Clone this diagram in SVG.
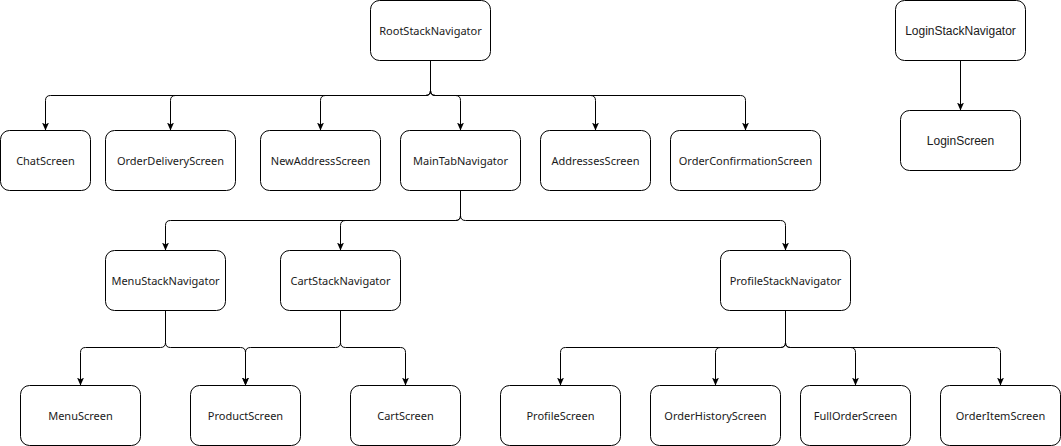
<svg xmlns="http://www.w3.org/2000/svg" width="1061" height="446" viewBox="0 0 1061 446">
<style>
.n rect{fill:#fff;stroke:#000;stroke-width:1}
.n text{font-family:"Noto Sans","Liberation Sans",sans-serif;font-size:11px;fill:#1a1a1a;text-anchor:middle;dominant-baseline:central}
.n.a text{font-family:"Liberation Sans",Arial,sans-serif;font-size:12px}
.e path{fill:none;stroke:#000;stroke-width:1;marker-end:url(#arr)}
</style>
<defs>
<marker id="arr" markerUnits="userSpaceOnUse" viewBox="0 0 8 8" markerWidth="8" markerHeight="8" refX="8" refY="4" orient="auto">
<path d="M0,0.5 L8,4 L0,7.5 L2,4 Z" fill="#000"/>
</marker>
</defs>
<rect width="1061" height="446" fill="#fff"/>
<g class="e" id="connectors">
<path d="M430.5,60.5 V90.5 Q430.5,95.5 425.5,95.5 H50.5 Q45.5,95.5 45.5,100.5 V130.5"/>
<path d="M430.5,60.5 V90.5 Q430.5,95.5 425.5,95.5 H175.5 Q170.5,95.5 170.5,100.5 V130.5"/>
<path d="M430.5,60.5 V90.5 Q430.5,95.5 425.5,95.5 H325.5 Q320.5,95.5 320.5,100.5 V130.5"/>
<path d="M430.5,60.5 V90.5 Q430.5,95.5 435.5,95.5 H455.5 Q460.5,95.5 460.5,100.5 V130.5"/>
<path d="M430.5,60.5 V90.5 Q430.5,95.5 435.5,95.5 H590.5 Q595.5,95.5 595.5,100.5 V130.5"/>
<path d="M430.5,60.5 V90.5 Q430.5,95.5 435.5,95.5 H740.5 Q745.5,95.5 745.5,100.5 V130.5"/>
<path d="M460.5,190.5 V215.5 Q460.5,220.5 455.5,220.5 H170.5 Q165.5,220.5 165.5,225.5 V250.5"/>
<path d="M460.5,190.5 V215.5 Q460.5,220.5 455.5,220.5 H345.5 Q340.5,220.5 340.5,225.5 V250.5"/>
<path d="M460.5,190.5 V215.5 Q460.5,220.5 465.5,220.5 H780.5 Q785.5,220.5 785.5,225.5 V250.5"/>
<path d="M165.5,310.5 V342.5 Q165.5,347.5 160.5,347.5 H85.5 Q80.5,347.5 80.5,352.5 V385.5"/>
<path d="M165.5,310.5 V342.5 Q165.5,347.5 170.5,347.5 H240.5 Q245.5,347.5 245.5,352.5 V385.5"/>
<path d="M340.5,310.5 V342.5 Q340.5,347.5 335.5,347.5 H250.5 Q245.5,347.5 245.5,352.5 V385.5"/>
<path d="M340.5,310.5 V342.5 Q340.5,347.5 345.5,347.5 H400.5 Q405.5,347.5 405.5,352.5 V385.5"/>
<path d="M785.5,310.5 V342.5 Q785.5,347.5 780.5,347.5 H565.5 Q560.5,347.5 560.5,352.5 V385.5"/>
<path d="M785.5,310.5 V342.5 Q785.5,347.5 780.5,347.5 H720.5 Q715.5,347.5 715.5,352.5 V385.5"/>
<path d="M785.5,310.5 V342.5 Q785.5,347.5 790.5,347.5 H850.5 Q855.5,347.5 855.5,352.5 V385.5"/>
<path d="M785.5,310.5 V342.5 Q785.5,347.5 790.5,347.5 H995.5 Q1000.5,347.5 1000.5,352.5 V385.5"/>
<path d="M960.5,60.5 V110.5"/>
</g>
<g class="n" id="RootStackNavigator"><rect x="370.5" y="0.5" width="120" height="60" rx="9"/><text x="430.5" y="30.5">RootStackNavigator</text></g>
<g class="n a" id="LoginStackNavigator"><rect x="895.5" y="0.5" width="130" height="60" rx="9"/><text x="960.5" y="30.5">LoginStackNavigator</text></g>
<g class="n a" id="LoginScreen"><rect x="900.5" y="110.5" width="120" height="60" rx="9"/><text x="960.5" y="140.5">LoginScreen</text></g>
<g class="n" id="ChatScreen"><rect x="0.5" y="130.5" width="90" height="60" rx="9"/><text x="45.5" y="160.5">ChatScreen</text></g>
<g class="n" id="OrderDeliveryScreen"><rect x="105.5" y="130.5" width="130" height="60" rx="9"/><text x="170.5" y="160.5">OrderDeliveryScreen</text></g>
<g class="n" id="NewAddressScreen"><rect x="260.5" y="130.5" width="120" height="60" rx="9"/><text x="320.5" y="160.5">NewAddressScreen</text></g>
<g class="n" id="MainTabNavigator"><rect x="400.5" y="130.5" width="120" height="60" rx="9"/><text x="460.5" y="160.5">MainTabNavigator</text></g>
<g class="n" id="AddressesScreen"><rect x="540.5" y="130.5" width="110" height="60" rx="9"/><text x="595.5" y="160.5">AddressesScreen</text></g>
<g class="n" id="OrderConfirmationScreen"><rect x="670.5" y="130.5" width="150" height="60" rx="9"/><text x="745.5" y="160.5">OrderConfirmationScreen</text></g>
<g class="n" id="MenuStackNavigator"><rect x="105.5" y="250.5" width="120" height="60" rx="9"/><text x="165.5" y="280.5">MenuStackNavigator</text></g>
<g class="n" id="CartStackNavigator"><rect x="280.5" y="250.5" width="120" height="60" rx="9"/><text x="340.5" y="280.5">CartStackNavigator</text></g>
<g class="n" id="ProfileStackNavigator"><rect x="720.5" y="250.5" width="130" height="60" rx="9"/><text x="785.5" y="280.5">ProfileStackNavigator</text></g>
<g class="n" id="MenuScreen"><rect x="20.5" y="385.5" width="120" height="60" rx="9"/><text x="80.5" y="415.5">MenuScreen</text></g>
<g class="n" id="ProductScreen"><rect x="190.5" y="385.5" width="110" height="60" rx="9"/><text x="245.5" y="415.5">ProductScreen</text></g>
<g class="n" id="CartScreen"><rect x="350.5" y="385.5" width="110" height="60" rx="9"/><text x="405.5" y="415.5">CartScreen</text></g>
<g class="n" id="ProfileScreen"><rect x="500.5" y="385.5" width="120" height="60" rx="9"/><text x="560.5" y="415.5">ProfileScreen</text></g>
<g class="n" id="OrderHistoryScreen"><rect x="650.5" y="385.5" width="130" height="60" rx="9"/><text x="715.5" y="415.5">OrderHistoryScreen</text></g>
<g class="n" id="FullOrderScreen"><rect x="800.5" y="385.5" width="110" height="60" rx="9"/><text x="855.5" y="415.5">FullOrderScreen</text></g>
<g class="n" id="OrderItemScreen"><rect x="940.5" y="385.5" width="120" height="60" rx="9"/><text x="1000.5" y="415.5">OrderItemScreen</text></g>
</svg>
